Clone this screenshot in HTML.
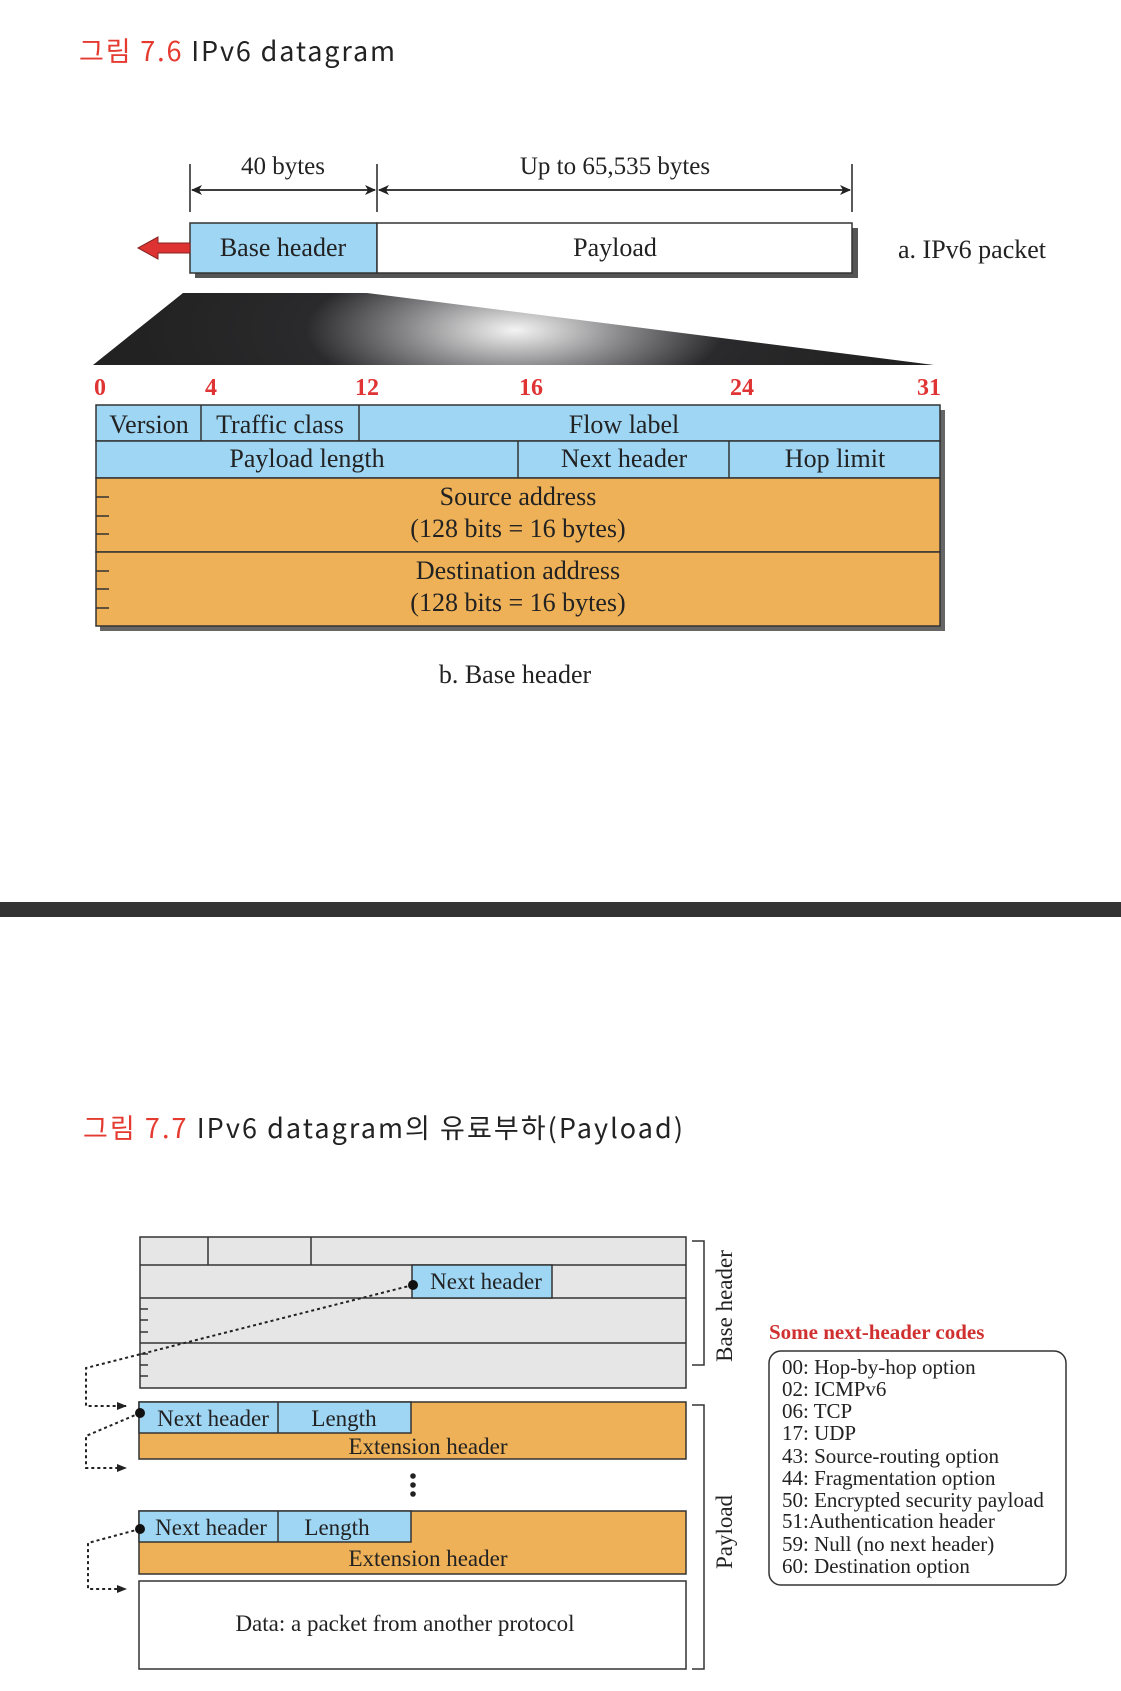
<!DOCTYPE html>
<html><head><meta charset="utf-8"><style>
html,body{margin:0;padding:0;background:#fff;}
svg{display:block;}
.s{font-family:"Liberation Serif",serif;fill:#222;}
.k{font-family:"Noto Sans CJK KR","Liberation Sans",sans-serif;}
</style></head><body>
<svg width="1121" height="1691" viewBox="0 0 1121 1691" xmlns="http://www.w3.org/2000/svg">
<defs>
<radialGradient id="g" cx="515" cy="330" r="380" gradientUnits="userSpaceOnUse" gradientTransform="translate(515 330) scale(1 0.35) translate(-515 -330)">
<stop offset="0" stop-color="#f4f4f4"/><stop offset="0.28" stop-color="#8a8a8c"/><stop offset="0.55" stop-color="#2a2a2c"/><stop offset="1" stop-color="#222"/>
</radialGradient>
<marker id="ah" markerWidth="10" markerHeight="10" refX="9" refY="5" orient="auto" markerUnits="userSpaceOnUse"><path d="M0,1 L10,5 L0,9 z" fill="#222"/></marker>
<marker id="ah2" markerWidth="12" markerHeight="10" refX="10" refY="5" orient="auto" markerUnits="userSpaceOnUse"><path d="M0,0 L11,5 L0,10 L3,5 z" fill="#222"/></marker>
</defs>

<!-- Title 1 -->
<text x="79" y="61" class="k" font-size="27" textLength="316" lengthAdjust="spacing"><tspan fill="#e53a2f">그림 7.6</tspan><tspan fill="#222"> IPv6 datagram</tspan></text>

<!-- dimension lines -->
<g stroke="#222" stroke-width="1.5">
<line x1="190" y1="164" x2="190" y2="212"/>
<line x1="377" y1="164" x2="377" y2="212"/>
<line x1="852" y1="164" x2="852" y2="212"/>
<line x1="192" y1="190" x2="375" y2="190" marker-end="url(#ah2)"/>
<line x1="375" y1="190" x2="192" y2="190" marker-end="url(#ah2)"/>
<line x1="379" y1="190" x2="850" y2="190" marker-end="url(#ah2)"/>
<line x1="850" y1="190" x2="379" y2="190" marker-end="url(#ah2)"/>
</g>
<text x="283" y="174" class="s" font-size="25" text-anchor="middle">40 bytes</text>
<text x="615" y="174" class="s" font-size="25" text-anchor="middle">Up to 65,535 bytes</text>

<!-- packet -->
<rect x="195" y="228" width="663" height="50" fill="#555"/>
<rect x="190" y="223" width="187" height="50" fill="#9fd6f4" stroke="#333" stroke-width="1.5"/>
<rect x="377" y="223" width="475" height="50" fill="#fff" stroke="#333" stroke-width="1.5"/>
<text x="283" y="256" class="s" font-size="26" text-anchor="middle">Base header</text>
<text x="615" y="256" class="s" font-size="26" text-anchor="middle">Payload</text>
<path d="M138,248 L158,237 L158,243 L190,243 L190,253 L158,253 L158,259 Z" fill="#d33" stroke="#822" stroke-width="1"/>
<text x="898" y="258" class="s" font-size="26">a. IPv6 packet</text>

<!-- trapezoid -->
<path d="M183,293 L367,293 L934,365 L93,365 Z" fill="url(#g)"/>

<!-- bit numbers -->
<g class="s" font-size="24" font-weight="bold" style="fill:#e03434">
<text x="100" y="395" text-anchor="middle">0</text>
<text x="211" y="395" text-anchor="middle">4</text>
<text x="367" y="395" text-anchor="middle">12</text>
<text x="531" y="395" text-anchor="middle">16</text>
<text x="742" y="395" text-anchor="middle">24</text>
<text x="929" y="395" text-anchor="middle">31</text>
</g>

<!-- base header table -->
<rect x="100" y="410" width="845" height="221" fill="#666"/>
<rect x="96" y="405" width="844" height="36" fill="#9fd6f4" stroke="#333" stroke-width="1.5"/>
<rect x="96" y="441" width="844" height="37" fill="#9fd6f4" stroke="#333" stroke-width="1.5"/>
<rect x="96" y="478" width="844" height="74" fill="#eeb157" stroke="#333" stroke-width="1.5"/>
<rect x="96" y="552" width="844" height="74" fill="#eeb157" stroke="#333" stroke-width="1.5"/>
<g stroke="#333" stroke-width="1.5">
<line x1="201" y1="405" x2="201" y2="441"/>
<line x1="359" y1="405" x2="359" y2="441"/>
<line x1="518" y1="441" x2="518" y2="478"/>
<line x1="729" y1="441" x2="729" y2="478"/>
<line x1="96" y1="497" x2="109" y2="497"/><line x1="96" y1="516" x2="109" y2="516"/><line x1="96" y1="534" x2="109" y2="534"/>
<line x1="96" y1="571" x2="109" y2="571"/><line x1="96" y1="589" x2="109" y2="589"/><line x1="96" y1="608" x2="109" y2="608"/>
</g>
<g class="s" font-size="26" text-anchor="middle">
<text x="149" y="433">Version</text>
<text x="280" y="433">Traffic class</text>
<text x="624" y="433">Flow label</text>
<text x="307" y="467">Payload length</text>
<text x="624" y="467">Next header</text>
<text x="835" y="467">Hop limit</text>
<text x="518" y="505">Source address</text>
<text x="518" y="537">(128 bits = 16 bytes)</text>
<text x="518" y="579">Destination address</text>
<text x="518" y="611">(128 bits = 16 bytes)</text>
<text x="515" y="683">b. Base header</text>
</g>

<!-- divider -->
<rect x="0" y="902" width="1121" height="15" fill="#333"/>

<!-- Title 2 -->
<text x="83" y="1138" class="k" font-size="27" textLength="600" lengthAdjust="spacing"><tspan fill="#e53a2f">그림 7.7</tspan><tspan fill="#222"> IPv6 datagram의 유료부하(Payload)</tspan></text>

<!-- base header (grey) -->
<rect x="140" y="1237" width="546" height="151" fill="#e6e6e6" stroke="#333" stroke-width="1.5"/>
<g stroke="#333" stroke-width="1.5">
<line x1="140" y1="1265" x2="686" y2="1265"/>
<line x1="140" y1="1298" x2="686" y2="1298"/>
<line x1="140" y1="1343" x2="686" y2="1343"/>
<line x1="208" y1="1237" x2="208" y2="1265"/>
<line x1="311" y1="1237" x2="311" y2="1265"/>
<line x1="140" y1="1309" x2="148" y2="1309"/><line x1="140" y1="1320" x2="148" y2="1320"/><line x1="140" y1="1332" x2="148" y2="1332"/>
<line x1="140" y1="1354" x2="148" y2="1354"/><line x1="140" y1="1365" x2="148" y2="1365"/><line x1="140" y1="1376" x2="148" y2="1376"/>
</g>
<rect x="412" y="1265" width="140" height="33" fill="#9fd6f4" stroke="#333" stroke-width="1.5"/>
<text x="486" y="1289" class="s" font-size="23" text-anchor="middle">Next header</text>

<!-- brackets -->
<path d="M692,1241 L704,1241 L704,1365 L692,1365" fill="none" stroke="#333" stroke-width="1.5"/>
<path d="M692,1405 L704,1405 L704,1669 L692,1669" fill="none" stroke="#333" stroke-width="1.5"/>
<text transform="translate(732,1306) rotate(-90)" class="s" font-size="23" text-anchor="middle">Base header</text>
<text transform="translate(732,1532) rotate(-90)" class="s" font-size="23" text-anchor="middle">Payload</text>

<!-- ext header 1 -->
<rect x="139" y="1402" width="547" height="57" fill="#eeb157" stroke="#333" stroke-width="1.5"/>
<rect x="139" y="1402" width="272" height="31" fill="#9fd6f4" stroke="#333" stroke-width="1.5"/>
<line x1="278" y1="1402" x2="278" y2="1433" stroke="#333" stroke-width="1.5"/>
<text x="213" y="1426" class="s" font-size="23" text-anchor="middle">Next header</text>
<text x="344" y="1426" class="s" font-size="23" text-anchor="middle">Length</text>
<text x="428" y="1454" class="s" font-size="23" text-anchor="middle">Extension header</text>

<!-- dots -->
<circle cx="413" cy="1476" r="2.8" fill="#222"/><circle cx="413" cy="1485" r="2.8" fill="#222"/><circle cx="413" cy="1494" r="2.8" fill="#222"/>

<!-- ext header 2 -->
<rect x="139" y="1511" width="547" height="63" fill="#eeb157" stroke="#333" stroke-width="1.5"/>
<rect x="139" y="1511" width="272" height="31" fill="#9fd6f4" stroke="#333" stroke-width="1.5"/>
<line x1="278" y1="1511" x2="278" y2="1542" stroke="#333" stroke-width="1.5"/>
<text x="211" y="1535" class="s" font-size="23" text-anchor="middle">Next header</text>
<text x="337" y="1535" class="s" font-size="23" text-anchor="middle">Length</text>
<text x="428" y="1566" class="s" font-size="23" text-anchor="middle">Extension header</text>

<!-- data -->
<rect x="139" y="1581" width="547" height="88" fill="#fff" stroke="#333" stroke-width="1.5"/>
<text x="405" y="1631" class="s" font-size="23" text-anchor="middle">Data: a packet from another protocol</text>

<!-- connectors -->
<g fill="none" stroke="#222" stroke-width="2" stroke-dasharray="3,3">
<path d="M413,1285 L86,1368 L86,1406 L126,1406" marker-end="url(#ah)"/>
<path d="M140,1413 L86,1436 L86,1468 L126,1468" marker-end="url(#ah)"/>
<path d="M140,1529 L88,1543 L88,1589 L126,1589" marker-end="url(#ah)"/>
</g>
<circle cx="413" cy="1285" r="5" fill="#111"/>
<circle cx="140" cy="1413" r="5" fill="#111"/>
<circle cx="140" cy="1529" r="5" fill="#111"/>

<!-- codes -->
<text x="769" y="1339" class="s" font-size="21" font-weight="bold" style="fill:#d03030">Some next-header codes</text>
<rect x="769" y="1351" width="297" height="234" rx="12" fill="#fff" stroke="#333" stroke-width="1.5"/>
<g class="s" font-size="21">
<text x="782" y="1374">00: Hop-by-hop option</text>
<text x="782" y="1396">02: ICMPv6</text>
<text x="782" y="1418">06: TCP</text>
<text x="782" y="1440">17: UDP</text>
<text x="782" y="1463">43: Source-routing option</text>
<text x="782" y="1485">44: Fragmentation option</text>
<text x="782" y="1507">50: Encrypted security payload</text>
<text x="782" y="1528">51:Authentication header</text>
<text x="782" y="1551">59: Null (no next header)</text>
<text x="782" y="1573">60: Destination option</text>
</g>
</svg>
</body></html>
